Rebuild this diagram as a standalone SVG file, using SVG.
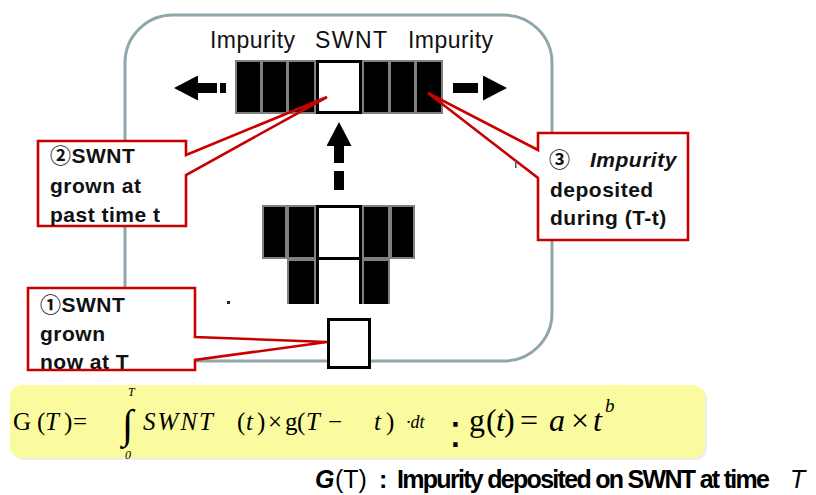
<svg xmlns="http://www.w3.org/2000/svg" width="816" height="495" viewBox="0 0 816 495">
<style>
.lbl{font-family:"Liberation Sans","Noto Sans CJK KR",sans-serif;font-size:23px;fill:#111}
.co{font-family:"Liberation Sans","Noto Sans CJK KR",sans-serif;font-size:21px;font-weight:bold;fill:#111;letter-spacing:0.5px}
.cobox{fill:#fff;stroke:none}
.coline{fill:none;stroke:#c80000;stroke-width:2.6;stroke-linejoin:miter}
.gray{fill:#808080}
.blk{fill:#000}
.wcell{fill:#fff;stroke:#000;stroke-width:3}
.m{font-family:"Liberation Serif","DejaVu Serif",serif;font-size:25px;fill:#000}
.mi{font-style:italic}
.arrow{stroke:#000;stroke-width:10;fill:none}
.bt{font-family:"Liberation Sans",sans-serif;font-size:25px;fill:#000}
</style>
<defs>
<marker id="ah" markerUnits="userSpaceOnUse" markerWidth="25" markerHeight="25" viewBox="0 0 24 25" refX="0" refY="12.5" orient="auto">
<path d="M0,0 L24,12.5 L0,25 Z" fill="#000"/>
</marker>
</defs>

<g id="container">
<rect x="125" y="15" width="427" height="346" rx="48" fill="none" stroke="#8fa6ab" stroke-width="3"/>
</g>

<g id="labels">
<text class="lbl" x="210" y="48" textLength="85" lengthAdjust="spacing">Impurity</text>
<text class="lbl" x="315" y="48" textLength="72" lengthAdjust="spacing">SWNT</text>
<text class="lbl" x="408" y="48" textLength="85" lengthAdjust="spacing">Impurity</text>
</g>

<g id="bar-top">
<rect class="gray" x="235" y="60" width="208" height="54"/>
<rect class="blk" x="237" y="62" width="23" height="50"/>
<rect class="blk" x="263" y="62" width="23" height="50"/>
<rect class="blk" x="289" y="62" width="25" height="50"/>
<rect class="blk" x="364" y="62" width="24" height="50"/>
<rect class="blk" x="391" y="62" width="23" height="50"/>
<rect class="blk" x="417" y="62" width="24" height="50"/>
<rect class="wcell" x="317.5" y="61.5" width="43" height="51"/>
</g>

<g id="bar-middle">
<rect class="gray" x="262" y="205" width="153" height="54"/>
<rect class="gray" x="287" y="259" width="29" height="45"/>
<rect class="gray" x="362" y="259" width="28" height="45"/>
<rect class="blk" x="264" y="207" width="21" height="50"/>
<rect class="blk" x="289" y="207" width="25" height="50"/>
<rect class="blk" x="364" y="207" width="24" height="50"/>
<rect class="blk" x="392" y="207" width="21" height="50"/>
<rect class="blk" x="289" y="261" width="25" height="43"/>
<rect class="blk" x="364" y="261" width="24" height="43"/>
<rect class="wcell" x="317.5" y="206.5" width="43" height="52"/>
<path d="M317.5,258 V304 M360.5,258 V304" stroke="#000" stroke-width="3" fill="none"/>
</g>

<g id="swnt-now">
<rect class="wcell" x="328.5" y="319.5" width="41" height="48"/>
</g>

<g id="connectors">
<line class="arrow" x1="226" y1="88" x2="198" y2="88" stroke-dasharray="6 3 19 100" marker-end="url(#ah)"/>
<line class="arrow" x1="453" y1="88" x2="483" y2="88" stroke-dasharray="25 100" marker-end="url(#ah)"/>
<line class="arrow" x1="339" y1="190" x2="339" y2="146" stroke-dasharray="19 8 17 100" marker-end="url(#ah)"/>
</g>

<g id="callout-2">
<rect class="cobox" x="38" y="141" width="148" height="85"/>
<path class="coline" d="M327,97 L186,155 V141 H38 V226 H186 V175 Z"/>
<text class="co" x="50" y="163">②SWNT</text>
<text class="co" x="50" y="193">grown at</text>
<text class="co" x="50" y="222">past time t</text>
</g>

<g id="callout-1">
<rect class="cobox" x="28" y="288" width="167" height="82"/>
<path class="coline" d="M327,342 L195,337 V288 H28 V370 H195 V360 Z"/>
<text class="co" x="40" y="312">①SWNT</text>
<text class="co" x="40" y="341">grown</text>
<text class="co" x="40" y="369">now at T</text>
</g>

<g id="callout-3">
<rect class="cobox" x="538" y="133" width="150" height="107"/>
<path class="coline" d="M428,93 L538,150 V133 H688 V240 H538 V178 Z"/>
<text class="co" x="549" y="167">③ <tspan x="590" font-style="italic">Impurity</tspan></text>
<text class="co" x="550" y="197">deposited</text>
<text class="co" x="550" y="225">during (T-t)</text>
</g>

<g id="specks">
<rect x="227" y="301" width="3" height="3" fill="#222"/>
<rect x="515" y="160" width="1.5" height="8" fill="#555"/>
</g>

<g id="formula">
<rect x="12" y="387" width="695" height="73" rx="12" fill="#ececec"/>
<rect x="10" y="385" width="695" height="73" rx="12" fill="#fafa9e"/>
<text class="m" y="430"><tspan x="13">G</tspan><tspan x="37">(</tspan><tspan x="45" class="mi">T</tspan><tspan x="64">)</tspan><tspan x="73">=</tspan></text>
<text class="m" x="122" y="438" style="font-size:41px">∫</text>
<text class="m mi" x="128" y="396" style="font-size:12px">T</text>
<text class="m mi" x="125" y="459" style="font-size:12px">0</text>
<text class="m mi" x="143" y="430" textLength="70" lengthAdjust="spacing">SWNT</text>
<text class="m" y="430"><tspan x="237">(</tspan><tspan x="246" class="mi">t</tspan><tspan x="257">)</tspan><tspan x="268">×</tspan><tspan x="285">g</tspan><tspan x="297">(</tspan><tspan x="306" class="mi">T</tspan><tspan x="328">−</tspan><tspan x="374" class="mi">t</tspan><tspan x="386">)</tspan></text>
<text class="m mi" x="406" y="428" style="font-size:18px">·dt</text>
<text x="449" y="447" font-family="Liberation Sans,sans-serif" font-size="46" fill="#000">:</text>
<text class="m" y="431" style="font-size:32px"><tspan x="469">g</tspan><tspan x="486">(</tspan><tspan x="496" class="mi">t</tspan><tspan x="504">)</tspan><tspan x="520">=</tspan><tspan x="549" class="mi">a</tspan><tspan x="571">×</tspan><tspan x="593" class="mi">t</tspan></text>
<text class="m mi" x="605" y="412" style="font-size:19px">b</text>
</g>

<g id="caption">
<text class="bt" x="315" y="488" font-weight="bold" font-style="italic">G</text>
<text class="bt" x="335" y="488">(T)</text>
<text class="bt" x="379" y="488" font-weight="bold">:</text>
<text class="bt" x="397" y="488" font-weight="bold" textLength="373" lengthAdjust="spacing">Impurity deposited on SWNT at time</text>
<text class="bt" x="790" y="488" font-style="italic">T</text>
</g>
</svg>
